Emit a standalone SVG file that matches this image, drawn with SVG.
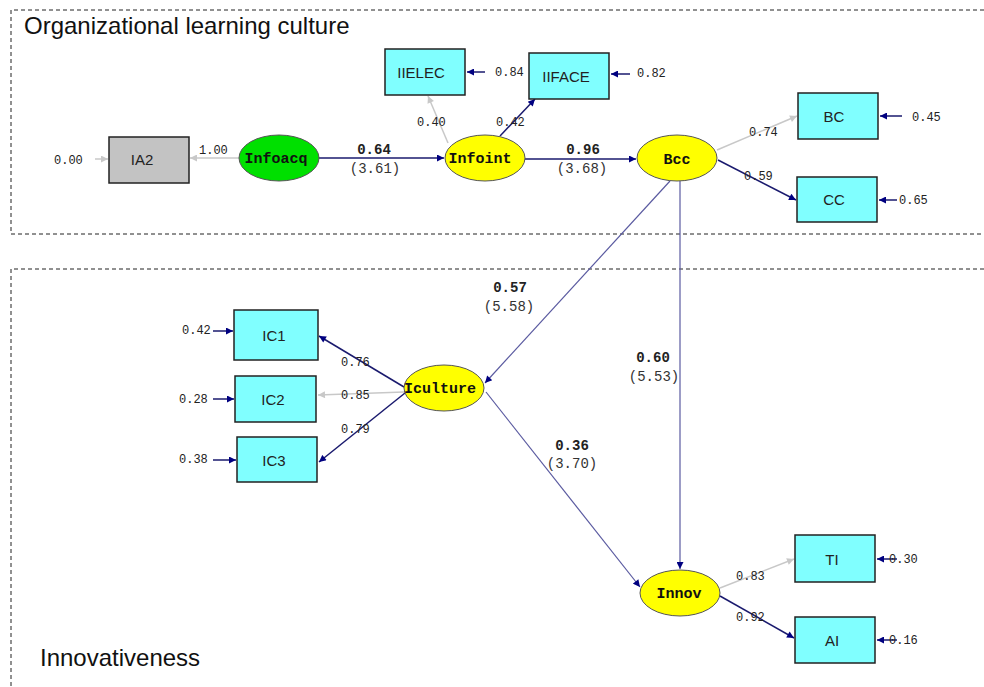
<svg xmlns="http://www.w3.org/2000/svg" width="984" height="687" viewBox="0 0 984 687">
<defs>
<marker id="an" viewBox="0 0 10 10" refX="10" refY="5" markerWidth="9" markerHeight="7" orient="auto" markerUnits="userSpaceOnUse"><path d="M0,0 L10,5 L0,10 z" fill="#000080"/></marker>
<marker id="ag" viewBox="0 0 10 10" refX="10" refY="5" markerWidth="9" markerHeight="7" orient="auto" markerUnits="userSpaceOnUse"><path d="M0,0 L10,5 L0,10 z" fill="#c8c8c8"/></marker>
</defs>
<style>
.bg{fill:#fff}
.frame{fill:none;stroke:#222;stroke-width:1;stroke-dasharray:4,3}
.title{font-family:"Liberation Sans",Arial,sans-serif;font-size:24px;fill:#111}
.box{fill:#80ffff;stroke:#222;stroke-width:1.5}
.grey{fill:#c3c3c3;stroke:#222;stroke-width:1.5}
.yel{fill:#ffff00;stroke:#555;stroke-width:1}
.grn{fill:#00e000;stroke:#555;stroke-width:1}
.bl{font-family:"Liberation Sans",Arial,sans-serif;font-size:15px;fill:#222;text-anchor:middle}
.el{font-family:"Liberation Mono","Courier New",monospace;font-weight:bold;font-size:15px;fill:#111;text-anchor:middle}
.n{font-family:"Liberation Mono","Courier New",monospace;font-size:12px;fill:#222}
.b{font-family:"Liberation Mono","Courier New",monospace;font-size:14px;font-weight:bold;fill:#222;text-anchor:middle}
.p{font-family:"Liberation Mono","Courier New",monospace;font-size:14px;fill:#333;text-anchor:middle}
.ln{stroke:#1a1a6e;stroke-width:1.5;fill:none;marker-end:url(#an)}
.lt{stroke:#5a5aa0;stroke-width:1.2;fill:none;marker-end:url(#an)}
.lg{stroke:#c8c8c8;stroke-width:1.5;fill:none;marker-end:url(#ag)}
</style>
<rect class="bg" x="0" y="0" width="984" height="687"/>
<path class="frame" d="M984,10 H11 V234 H984"/>
<path class="frame" d="M984,269 H11 V687"/>
<text class="title" x="24" y="34">Organizational learning culture</text>
<text class="title" x="40" y="666">Innovativeness</text>

<g id="connectors">
<line class="lg" x1="95" y1="159" x2="108" y2="159"/>
<line class="lg" x1="239" y1="158" x2="190" y2="158"/>
<line class="ln" x1="319" y1="158" x2="444" y2="158"/>
<line class="lg" x1="448" y1="143" x2="428" y2="96"/>
<line class="ln" x1="500" y1="136" x2="535" y2="99"/>
<line class="ln" x1="485" y1="72" x2="467" y2="72"/>
<line class="ln" x1="630" y1="74" x2="611" y2="74"/>
<line class="ln" x1="525" y1="159" x2="636" y2="159"/>
<line class="lg" x1="717" y1="150" x2="797" y2="116"/>
<line class="ln" x1="718" y1="160" x2="796" y2="200"/>
<line class="ln" x1="902" y1="116" x2="880" y2="116"/>
<line class="ln" x1="897" y1="200" x2="879" y2="200"/>
<line class="lt" x1="670" y1="181" x2="485" y2="383"/>
<line class="lt" x1="680" y1="181" x2="680" y2="569"/>
<line class="lt" x1="486" y1="392" x2="640" y2="587"/>
<line class="ln" x1="404" y1="387" x2="319" y2="336"/>
<line class="lg" x1="404" y1="392" x2="318" y2="395"/>
<line class="ln" x1="405" y1="393" x2="319" y2="462"/>
<line class="ln" x1="213" y1="331" x2="233" y2="331"/>
<line class="ln" x1="213" y1="399" x2="234" y2="399"/>
<line class="ln" x1="213" y1="460" x2="236" y2="460"/>
<line class="lg" x1="720" y1="588" x2="794" y2="559"/>
<line class="ln" x1="720" y1="596" x2="794" y2="638"/>
<line class="ln" x1="897" y1="559" x2="877" y2="559"/>
<line class="ln" x1="897" y1="640" x2="877" y2="640"/>
</g>

<g id="labels">
<text class="n" x="54" y="164">0.00</text>
<text class="n" x="199" y="154">1.00</text>
<text class="b" x="374" y="154">0.64</text>
<text class="p" x="375" y="173">(3.61)</text>
<text class="n" x="417" y="126">0.40</text>
<text class="n" x="496" y="126">0.42</text>
<text class="n" x="495" y="76">0.84</text>
<text class="n" x="637" y="77">0.82</text>
<text class="b" x="583" y="154">0.96</text>
<text class="p" x="582" y="173">(3.68)</text>
<text class="n" x="749" y="136">0.74</text>
<text class="n" x="744" y="180">0.59</text>
<text class="n" x="912" y="121">0.45</text>
<text class="n" x="899" y="204">0.65</text>
<text class="b" x="510" y="292">0.57</text>
<text class="p" x="509" y="311">(5.58)</text>
<text class="b" x="653" y="362">0.60</text>
<text class="p" x="654" y="381">(5.53)</text>
<text class="b" x="572" y="450">0.36</text>
<text class="p" x="572" y="468">(3.70)</text>
<text class="n" x="341" y="366">0.76</text>
<text class="n" x="341" y="399">0.85</text>
<text class="n" x="341" y="433">0.79</text>
<text class="n" x="182" y="334">0.42</text>
<text class="n" x="179" y="403">0.28</text>
<text class="n" x="179" y="463">0.38</text>
<text class="n" x="736" y="580">0.83</text>
<text class="n" x="736" y="621">0.92</text>
<text class="n" x="889" y="563">0.30</text>
<text class="n" x="889" y="644">0.16</text>
</g>

<g id="IA2"><rect class="grey" x="109" y="137" width="80" height="46"/><text class="bl" x="142" y="165">IA2</text></g>
<g id="Infoacq"><ellipse class="grn" cx="279" cy="158" rx="40" ry="23"/><text class="el" x="276" y="163">Infoacq</text></g>
<g id="Infoint"><ellipse class="yel" cx="485" cy="158" rx="40" ry="23"/><text class="el" x="480" y="163">Infoint</text></g>
<g id="Bcc"><ellipse class="yel" cx="677" cy="158" rx="40" ry="23"/><text class="el" x="677" y="164">Bcc</text></g>
<g id="IIELEC"><rect class="box" x="385" y="49" width="80" height="46"/><text class="bl" x="421" y="78">IIELEC</text></g>
<g id="IIFACE"><rect class="box" x="529" y="53" width="80" height="46"/><text class="bl" x="566" y="82">IIFACE</text></g>
<g id="BC"><rect class="box" x="798" y="93" width="80" height="46"/><text class="bl" x="834" y="122">BC</text></g>
<g id="CC"><rect class="box" x="797" y="177" width="80" height="45"/><text class="bl" x="834" y="205">CC</text></g>
<g id="Iculture"><ellipse class="yel" cx="444" cy="388" rx="40" ry="23"/><text class="el" x="440" y="393">Iculture</text></g>
<g id="IC1"><rect class="box" x="234" y="310" width="84" height="50"/><text class="bl" x="274" y="341">IC1</text></g>
<g id="IC2"><rect class="box" x="235" y="376" width="81" height="46"/><text class="bl" x="273" y="405">IC2</text></g>
<g id="IC3"><rect class="box" x="237" y="437" width="80" height="45"/><text class="bl" x="274" y="466">IC3</text></g>
<g id="Innov"><ellipse class="yel" cx="680" cy="593" rx="40" ry="23"/><text class="el" x="679" y="598">Innov</text></g>
<g id="TI"><rect class="box" x="795" y="535" width="80" height="47"/><text class="bl" x="832" y="565">TI</text></g>
<g id="AI"><rect class="box" x="795" y="617" width="80" height="46"/><text class="bl" x="832" y="646">AI</text></g>
</svg>
